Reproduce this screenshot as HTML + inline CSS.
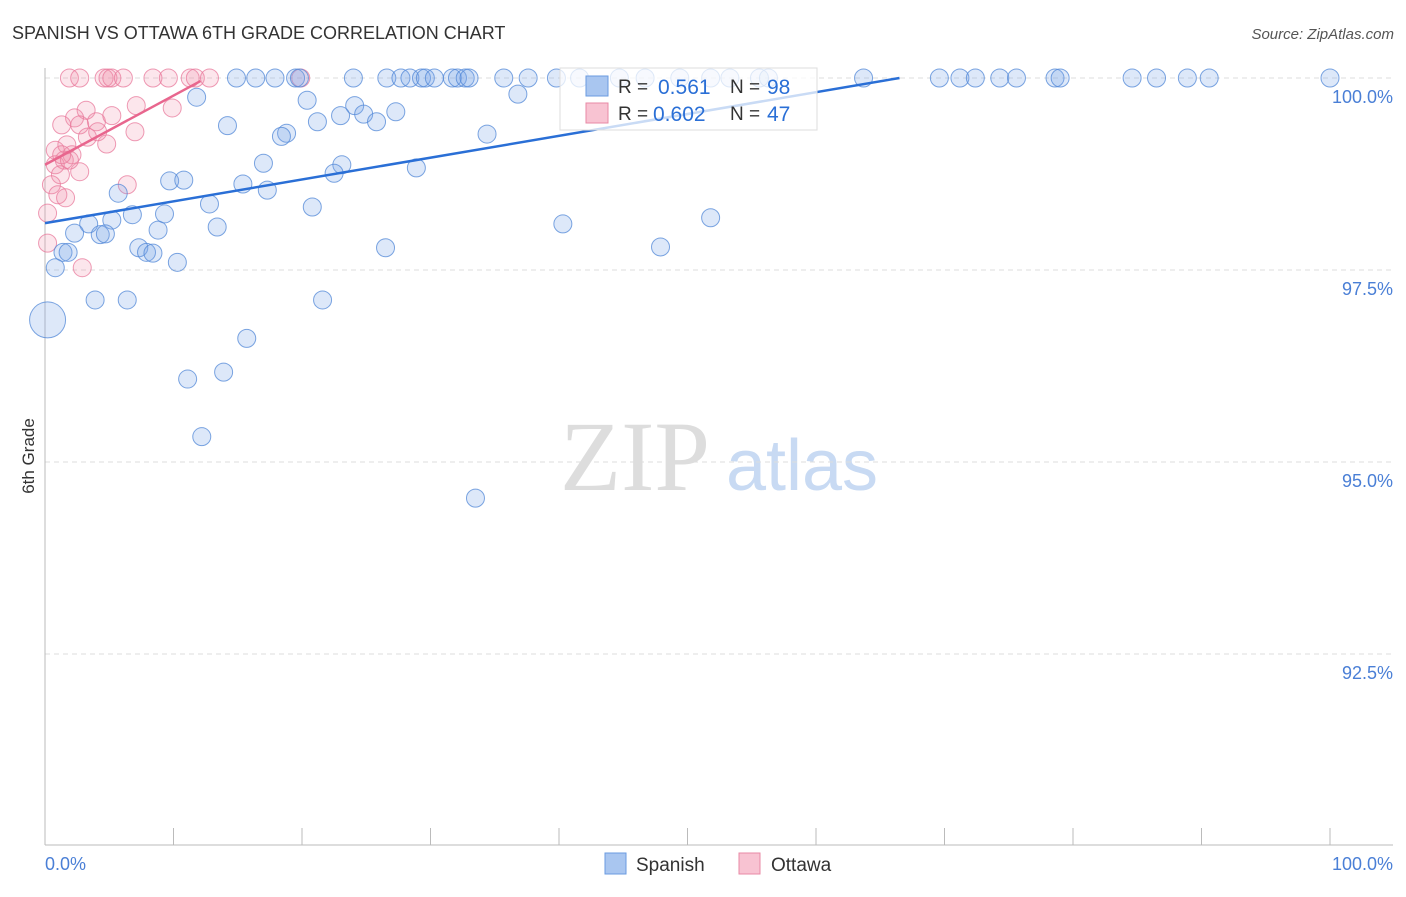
<!DOCTYPE html>
<html><head><meta charset="utf-8"><style>
body{margin:0;background:#fff;font-family:"Liberation Sans",sans-serif;}
</style></head><body>
<svg id="chart" width="1406" height="892" xmlns="http://www.w3.org/2000/svg" style="font-family:'Liberation Sans',sans-serif">
<text x="12" y="39" font-size="18" fill="#333">SPANISH VS OTTAWA 6TH GRADE CORRELATION CHART</text>
<text x="1394" y="39" font-size="15" fill="#555" font-style="italic" text-anchor="end">Source: ZipAtlas.com</text>
<text x="0" y="0" transform="translate(34,456) rotate(-90)" font-size="17" fill="#333" text-anchor="middle">6th Grade</text>
<g>
<text x="635" y="490" font-size="100" fill="#ddd" style="font-family:'Liberation Serif',serif" text-anchor="middle">ZIP</text>
<text x="802" y="490" font-size="72" fill="#c8daf3" text-anchor="middle">atlas</text>
</g>
<g id="grid"></g>
<g id="axes"></g>
<g id="pts"></g>
<g id="trend"></g>
<g>
<rect x="560" y="68" width="257" height="62" fill="#fff" fill-opacity="0.75" stroke="#ddd"/>
<rect x="586" y="76" width="22" height="20" fill="#a9c6f0" stroke="#6a9be0"/>
<text x="618" y="93" font-size="19" fill="#333">R =</text>
<text x="658" y="94" font-size="21" fill="#2a6fd6">0.561</text>
<text x="730" y="93" font-size="19" fill="#333">N =</text>
<text x="767" y="94" font-size="21" fill="#2a6fd6">98</text>
<rect x="586" y="103" width="22" height="20" fill="#f8c3d2" stroke="#e88aa5"/>
<text x="618" y="120" font-size="19" fill="#333">R =</text>
<text x="653" y="121" font-size="21" fill="#2a6fd6">0.602</text>
<text x="730" y="120" font-size="19" fill="#333">N =</text>
<text x="767" y="121" font-size="21" fill="#2a6fd6">47</text>
</g>
<g>
<rect x="605" y="853" width="21" height="21" fill="#a9c6f0" stroke="#6a9be0"/>
<text x="636" y="871" font-size="19" fill="#333">Spanish</text>
<rect x="739" y="853" width="21" height="21" fill="#f8c3d2" stroke="#e88aa5"/>
<text x="771" y="871" font-size="19" fill="#333">Ottawa</text>
</g>
</svg>
<script>
const yTicks=[100,97.5,95,92.5];
const yTickLabels=["100.0%","97.5%","95.0%","92.5%"];
const xTicks=[0,10,20,30,40,50,60,70,80,90,100];
const spanishX=[14.9,16.4,17.9,19.5,19.8,24.0,26.6,27.7,28.4,29.3,29.6,30.3,31.7,32.1,32.7,33.0,35.7,37.6,39.8,41.6,44.7,46.7,49.4,51.8,53.3,55.6,56.3,63.7,69.6,71.2,72.4,74.3,75.6,78.6,79.0,84.6,86.5,88.9,90.6,100,
11.8,20.4,24.1,36.8,14.2,21.2,23.0,24.8,25.8,27.3,18.8,18.4,34.4,17.0,23.1,22.5,28.9,9.7,10.8,15.4,17.3,5.7,12.8,20.8,9.3,6.8,5.2,3.4,13.4,8.8,2.3,4.3,4.7,40.3,51.8,7.3,7.9,8.4,1.4,1.8,26.5,47.9,0.8,10.3,3.9,6.4,21.6,15.7,11.1,13.9,12.2,33.5,0.2];
const spanishY=[100,100,100,100,100,100,100,100,100,100,100,100,100,100,100,100,100,100,100,100,100,100,100,100,100,100,100,100,100,100,100,100,100,100,100,100,100,100,100,100,
99.75,99.71,99.64,99.79,99.38,99.43,99.51,99.53,99.43,99.56,99.28,99.24,99.27,98.89,98.87,98.76,98.83,98.66,98.67,98.62,98.54,98.50,98.36,98.32,98.23,98.22,98.15,98.10,98.06,98.02,97.98,97.96,97.97,98.10,98.18,97.79,97.73,97.72,97.73,97.73,97.79,97.80,97.53,97.60,97.11,97.11,97.11,96.61,96.08,96.17,95.33,94.53,96.85];
const ottawaX=[1.9,2.7,4.6,4.9,5.2,6.1,8.4,9.6,11.3,11.7,12.8,19.9,3.2,2.3,1.3,4.0,5.2,7.1,9.9,2.7,7.0,3.3,4.1,4.8,1.7,0.8,2.1,1.5,0.8,2.7,1.2,0.5,6.4,1.0,1.6,0.2,0.2,2.9,1.9,1.3];
const ottawaY=[100,100,100,100,100,100,100,100,100,100,100,100,99.58,99.48,99.39,99.43,99.51,99.64,99.61,99.39,99.30,99.23,99.30,99.14,99.13,99.06,99.00,98.93,98.87,98.78,98.74,98.61,98.61,98.48,98.44,98.24,97.85,97.53,98.93,99.00];
const spanishTrend=[[0,98.11],[66.5,100]];
const ottawaTrend=[[0,98.87],[12.1,99.96]];
const NS="http://www.w3.org/2000/svg";
const sx=v=>45+v*12.85, sy=v=>78+(100-v)*76.8;
function mk(tag,attrs,parent){const e=document.createElementNS(NS,tag);for(const k in attrs)e.setAttribute(k,attrs[k]);parent.appendChild(e);return e;}
const grid=document.getElementById('grid'),axes=document.getElementById('axes'),pts=document.getElementById('pts'),trend=document.getElementById('trend');
yTicks.forEach((t,i)=>{
 const l=mk('line',{x1:45,x2:1393,y1:sy(t),y2:sy(t),stroke:'#ddd','stroke-dasharray':'5,4'},grid);
 
 
 const tx=mk('text',{x:1393,y:sy(t)+25,'font-size':18,fill:'#4a7fd6','text-anchor':'end'},axes);
 tx.textContent=yTickLabels[i];
 
 
});
const ya=mk('line',{x1:45,x2:45,y1:68,y2:845,stroke:'#bbb'},axes);


const xa=mk('line',{x1:45,x2:1393,y1:845,y2:845,stroke:'#bbb'},axes);


xTicks.forEach(t=>{
 const l=mk('line',{x1:sx(t),x2:sx(t),y1:828,y2:845,stroke:'#bbb'},axes);
 
 
});
const xl0=mk('text',{x:45,y:870,'font-size':18,fill:'#4a7fd6'},axes);xl0.textContent='0.0%';


const xl1=mk('text',{x:1393,y:870,'font-size':18,fill:'#4a7fd6','text-anchor':'end'},axes);xl1.textContent='100.0%';


function dots(X,Y,fill,stroke,name){X.forEach((x,i)=>{
 const big=(name==='spanish-point'&&i===X.length-1);
 const c=mk('circle',{cx:sx(x),cy:sy(Y[i]),r:big?18:9,fill:fill,stroke:stroke,'stroke-width':1},pts);
 
 
});}
dots(ottawaX,ottawaY,'rgba(240,140,170,0.22)','rgba(232,120,155,0.75)','ottawa-point');
dots(spanishX,spanishY,'rgba(120,165,230,0.25)','rgba(80,135,215,0.75)','spanish-point');
const t1=mk('line',{x1:sx(spanishTrend[0][0]),y1:sy(spanishTrend[0][1]),x2:sx(spanishTrend[1][0]),y2:sy(spanishTrend[1][1]),stroke:'#2a6fd6','stroke-width':2.5},trend);


const t2=mk('line',{x1:sx(ottawaTrend[0][0]),y1:sy(ottawaTrend[0][1]),x2:sx(ottawaTrend[1][0]),y2:sy(ottawaTrend[1][1]),stroke:'#e8668e','stroke-width':2.5},trend);


</script>
</body></html>
